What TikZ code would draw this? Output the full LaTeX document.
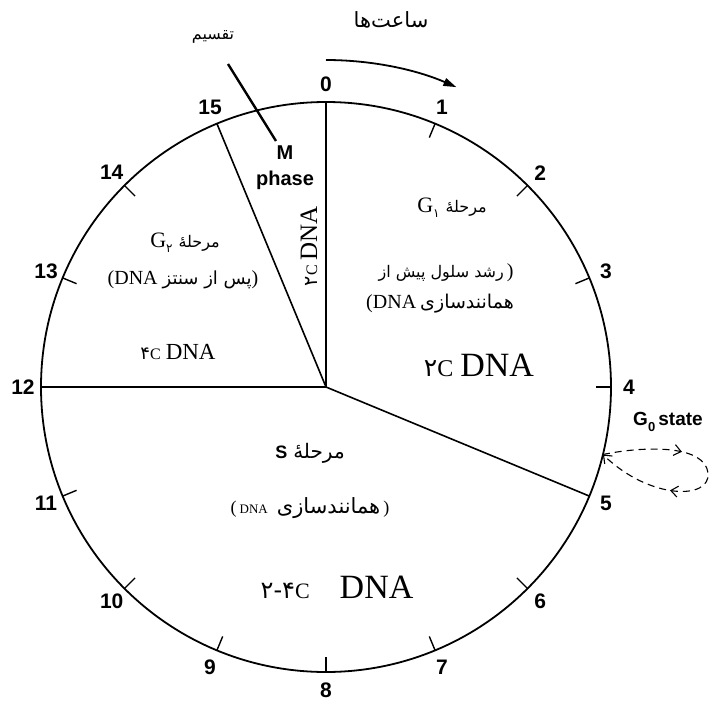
\documentclass[tikz,border=0pt]{standalone}
\usepackage{fontspec}
\setmainfont{Liberation Serif}
\newfontfamily\numfont{Liberation Sans}
\newfontfamily\fafont[Script=Arabic]{DejaVu Sans}
\TeXXeTstate=1
\usetikzlibrary{arrows.meta,decorations.markings}

% digits, small C, DNA
\newcommand{\dnalabel}[5]{{\fafont\fontsize{#1}{#1}\selectfont #5}{\rmfamily\fontsize{#2}{#2}\selectfont C}\hspace{#4pt}{\rmfamily\fontsize{#3}{#3}\selectfont DNA}}
\newcommand{\gsub}[1]{{\rmfamily\fontsize{22}{22}\selectfont G}\raisebox{-0.3em}{\fontsize{12}{12}\selectfont #1}}
\newcommand{\fasize}[1]{\fontsize{#1}{#1}\selectfont}

\begin{document}
\begin{tikzpicture}[x=1pt,y=-1pt,
    hour/.style={font=\numfont\bfseries\fontsize{21}{21}\selectfont, inner sep=0pt},
    fa/.style={font=\fafont\fontsize{16}{18}\selectfont, inner sep=0pt},
    rim/.style={line width=1.8pt},
    spoke/.style={line width=1.6pt},
    tickmark/.style={line width=1.4pt},
    barb/.style={-{Straight Barb[length=7pt,width=11pt]}}]

\useasboundingbox (0,0) rectangle (710,702);
\coordinate (c) at (326,387);

% clock face
\draw[rim] (c) circle[radius=285];
\foreach \h in {0,5,12,15}
  \draw[spoke] (c) -- ([shift={(-90+22.5*\h:285)}]c);
\foreach \h in {1,2,3,4,6,7,8,9,10,11,13,14}
  \draw[tickmark] ([shift={(-90+22.5*\h:285)}]c) -- ([shift={(-90+22.5*\h:270)}]c);
\foreach \h in {0,...,15}
  \node[hour] (h\h) at ([shift={(-90+22.5*\h:303)}]c) {\h};

% hours arrow
\node[fa, font=\fafont\fasize{21}] (hours) at (391,20) {ساعت‌ها};
\draw[line width=1.8pt,-{Triangle[length=13pt,width=8pt]}] ([shift={(-90:327)}]c) arc[start angle=-90,end angle=-66.5,radius=327];

% division pointer
\node[fa] (division) at (213,37) {تقسیم};
\coordinate (div-top) at (228,64);
\coordinate (div-tip) at (276,141);
\draw[line width=2.4pt] (div-top) -- (div-tip);

% M phase
\node[font=\numfont\bfseries\fontsize{20}{26}\selectfont, align=center, inner sep=0pt] (mphase) at (285,168) {M\\phase};
\node[rotate=90, inner sep=0pt] (mdna) at (309,246) {\dnalabel{19}{16}{25}{5}{۲}};

% G1
\node[fa] (g1a) at (452,208) {\gsub{۱}\hspace{6pt}مرحلهٔ};
\node[fa] (g1b) at (446,273) {\beginR رشد سلول پیش از\endR\hspace{3pt}{\rmfamily\fasize{20})}};
\node[fa] (g1c) at (440,304) {{\rmfamily\fasize{20}(DNA}\hspace{4pt}{\fasize{19}همانندسازی}};
\node[inner sep=0pt] (g1dna) at (479,365) {\dnalabel{25}{24}{34}{7}{۲}};

% G2
\node[fa] (g2a) at (185,243) {\gsub{۲}\hspace{6pt}مرحلهٔ};
\node[fa] (g2b) at (183,280) {{\rmfamily\fasize{20}(DNA}\hspace{5pt}{\fasize{18}\beginR پس از سنتز\endR}{\rmfamily\fasize{20})}};
\node[inner sep=0pt] (g2dna) at (178,352) {\dnalabel{18}{16}{23}{5}{۴}};

% S
\node[fa] (sa) at (310,453) {{\numfont\bfseries\fasize{18}S}\hspace{6pt}{\fasize{20}مرحلهٔ}};
\node[fa] (sb) at (310,508) {{\rmfamily\fasize{18}(\,}{\rmfamily\fasize{13}DNA}\hspace{9pt}{\fasize{21}همانندسازی}{\rmfamily\fasize{18}\,)}};
\node[inner sep=0pt] (sdna) at (337,587) {\dnalabel{24}{22}{34}{30}{۲-۴}};

% G0 loop
\node[font=\numfont\bfseries\fontsize{19}{19}\selectfont, inner sep=0pt] (g0label) at (668,422) {G\raisebox{-0.3em}{\fontsize{13}{13}\selectfont 0}\,state};
\coordinate (g0-exit) at ([shift={(13.7:285)}]c);
\draw[line width=1.1pt, dash pattern=on 7pt off 5pt, barb, postaction={decorate},
  decoration={markings,
    mark=at position 0.33 with {\arrow{Straight Barb[length=7pt,width=11pt]}},
    mark=at position 0.68 with {\arrow{Straight Barb[length=7pt,width=11pt]}}}]
  (g0-exit) .. controls (650,445) and (705,446) .. (708,473)
  .. controls (711,500) and (650,500) .. (g0-exit);
\end{tikzpicture}
\end{document}
